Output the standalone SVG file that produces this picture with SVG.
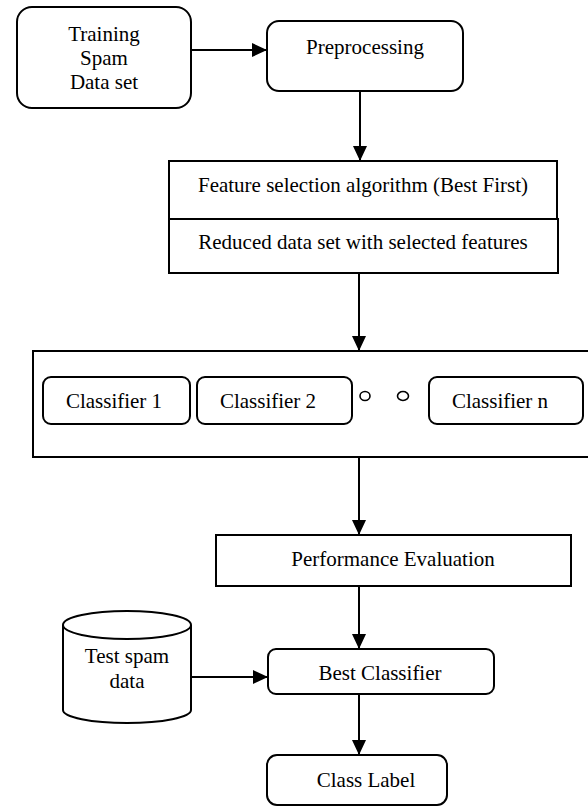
<svg xmlns="http://www.w3.org/2000/svg" width="588" height="807" viewBox="0 0 588 807">
<style>
.box{fill:#fff;stroke:#000;stroke-width:2}
.t{font-family:"Liberation Serif","Times New Roman",serif;font-size:21px;fill:#000;text-anchor:middle}
.c{stroke:#000;stroke-width:2;fill:none;marker-end:url(#ah)}
</style>
<defs>
<marker id="ah" viewBox="0 0 15 14" refX="15" refY="7" markerWidth="15" markerHeight="14" markerUnits="userSpaceOnUse" orient="auto">
<path d="M0,0 L15,7 L0,14 Z" fill="#000"/>
</marker>
</defs>
<rect width="588" height="807" fill="#fff"/>
<g id="connectors">
<line class="c" x1="191" y1="50" x2="267" y2="50"/>
<line class="c" x1="360" y1="91" x2="360" y2="161"/>
<line class="c" x1="359" y1="273" x2="359" y2="351"/>
<line class="c" x1="359" y1="457" x2="359" y2="535"/>
<line class="c" x1="359" y1="586" x2="359" y2="649"/>
<line class="c" x1="191" y1="677" x2="268" y2="677"/>
<line class="c" x1="359" y1="694" x2="359" y2="755"/>
</g>
<g id="training">
<rect class="box" x="17" y="7" width="174" height="101" rx="15"/>
<text class="t" x="104" y="41">Training</text>
<text class="t" x="104" y="65">Spam</text>
<text class="t" x="104" y="89">Data set</text>
</g>
<g id="preprocessing">
<rect class="box" x="267" y="21" width="196" height="70" rx="12"/>
<text class="t" x="365" y="54">Preprocessing</text>
</g>
<g id="feature">
<rect class="box" x="169" y="161" width="388" height="58"/>
<text class="t" x="363" y="192">Feature selection algorithm (Best First)</text>
</g>
<g id="reduced">
<rect class="box" x="169" y="219" width="389" height="54"/>
<text class="t" x="363" y="249">Reduced data set with selected features</text>
</g>
<g id="classifiers">
<rect class="box" x="33" y="351" width="560" height="106"/>
<g id="classifier1">
<rect class="box" x="43" y="377" width="147" height="47" rx="8"/>
<text class="t" x="114" y="408">Classifier 1</text>
</g>
<g id="classifier2">
<rect class="box" x="197" y="377" width="155" height="47" rx="8"/>
<text class="t" x="268" y="408">Classifier 2</text>
</g>
<g id="dots">
<ellipse cx="365" cy="396" rx="5" ry="4.5" fill="none" stroke="#000" stroke-width="1.6"/>
<ellipse cx="403" cy="396" rx="5.5" ry="4.5" fill="none" stroke="#000" stroke-width="1.6"/>
</g>
<g id="classifiern">
<rect class="box" x="429" y="377" width="154" height="47" rx="8"/>
<text class="t" x="500" y="408">Classifier n</text>
</g>
</g>
<g id="performance">
<rect class="box" x="216" y="535" width="355" height="51"/>
<text class="t" x="393" y="566">Performance Evaluation</text>
</g>
<g id="testdata">
<path class="box" d="M63,625 L63,710 A64,13 0 0 0 191,710 L191,625 A64,14 0 0 0 63,625 Z"/>
<path d="M63,625 A64,14 0 0 0 191,625" fill="none" stroke="#000" stroke-width="2"/>
<text class="t" x="127" y="663">Test spam</text>
<text class="t" x="127" y="688">data</text>
</g>
<g id="best">
<rect class="box" x="268" y="649" width="226" height="45" rx="8"/>
<text class="t" x="380" y="680">Best Classifier</text>
</g>
<g id="classlabel">
<rect class="box" x="267" y="755" width="180" height="50" rx="10"/>
<text class="t" x="366" y="787">Class Label</text>
</g>
</svg>
